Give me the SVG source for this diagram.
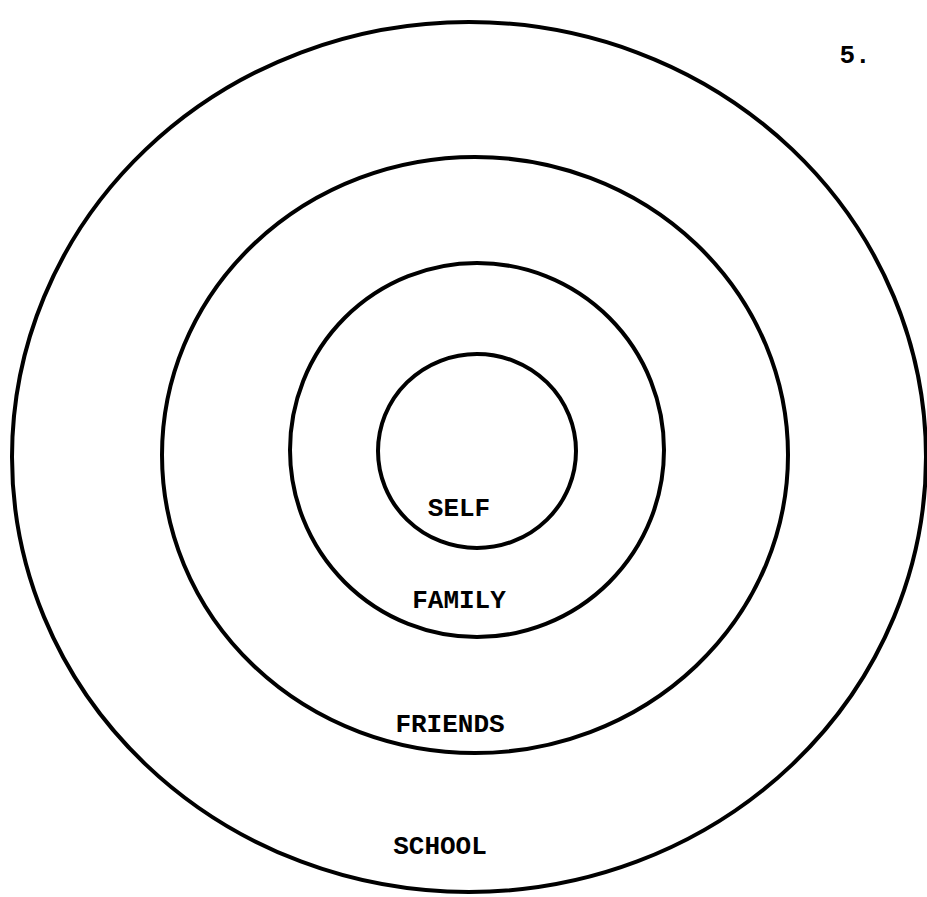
<svg xmlns="http://www.w3.org/2000/svg" width="927" height="897" viewBox="0 0 927 897">
<style>
.ring{fill:none;stroke:#000;stroke-width:4}
.lbl{font-family:"Liberation Mono","DejaVu Sans Mono",monospace;font-weight:bold;font-size:26px;fill:#000;text-anchor:middle}
</style>
<rect width="927" height="897" fill="#fff"/>
<g id="school"><ellipse class="ring" cx="469" cy="457" rx="457" ry="435"/><text class="lbl" x="440" y="854">SCHOOL</text></g>
<g id="friends"><ellipse class="ring" cx="475" cy="455" rx="313" ry="298"/><text class="lbl" x="450" y="732">FRIENDS</text></g>
<g id="family"><ellipse class="ring" cx="477" cy="450" rx="187" ry="187"/><text class="lbl" x="459" y="608">FAMILY</text></g>
<g id="self"><ellipse class="ring" cx="477" cy="451" rx="99" ry="97"/><text class="lbl" x="459" y="516">SELF</text></g>
<g id="connectors"/>
<text class="lbl" x="855" y="63">5.</text>
</svg>
